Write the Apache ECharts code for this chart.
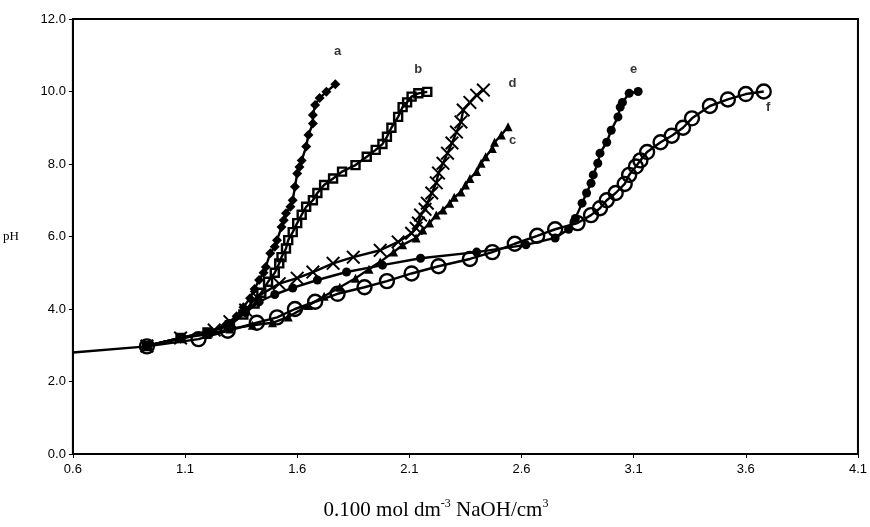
<!DOCTYPE html>
<html>
<head>
<meta charset="utf-8">
<script src="https://cdn.jsdelivr.net/npm/echarts@6/dist/echarts.min.js"></script>
<style>
  html, body { margin: 0; padding: 0; background: #fff; }
  #main { width: 870px; height: 527px; }
</style>
</head>
<body>
<div id="main"></div>
<script>
// 滴定曲线数据 [NaOH 体积, pH]
var curveA = [[0.93,2.98],[1.08,3.18],[1.2,3.35],[1.28,3.55],[1.33,3.8],[1.36,4.05],[1.39,4.3],[1.41,4.55],[1.43,4.8],[1.45,5.0],[1.46,5.16],[1.48,5.54],[1.5,5.72],[1.51,5.9],[1.53,6.26],[1.54,6.45],[1.55,6.64],[1.57,6.82],[1.58,7.0],[1.59,7.37],[1.6,7.74],[1.61,7.92],[1.62,8.1],[1.64,8.48],[1.65,8.8],[1.67,9.12],[1.67,9.35],[1.68,9.63],[1.7,9.82],[1.73,9.99],[1.77,10.2]];
var curveB = [[0.93,2.98],[1.08,3.2],[1.2,3.35],[1.3,3.55],[1.36,3.85],[1.41,4.15],[1.44,4.45],[1.47,4.75],[1.5,5.0],[1.52,5.26],[1.53,5.43],[1.55,5.67],[1.56,5.9],[1.58,6.12],[1.6,6.37],[1.62,6.6],[1.64,6.82],[1.67,7.0],[1.69,7.2],[1.72,7.42],[1.76,7.6],[1.8,7.79],[1.86,7.97],[1.91,8.2],[1.95,8.39],[1.98,8.55],[2.0,8.75],[2.02,9.0],[2.05,9.3],[2.07,9.57],[2.09,9.7],[2.11,9.86],[2.14,9.95],[2.18,9.99]];
var curveC = [[0.93,2.98],[1.08,3.2],[1.2,3.3],[1.3,3.45],[1.4,3.55],[1.49,3.62],[1.56,3.78],[1.65,4.1],[1.72,4.35],[1.79,4.6],[1.86,4.85],[1.92,5.1],[1.97,5.3],[2.03,5.57],[2.07,5.77],[2.13,5.96],[2.16,6.18],[2.19,6.37],[2.22,6.59],[2.25,6.73],[2.28,6.92],[2.3,7.08],[2.33,7.23],[2.35,7.42],[2.37,7.6],[2.4,7.79],[2.42,8.02],[2.44,8.2],[2.47,8.43],[2.48,8.6],[2.51,8.8],[2.54,9.03]];
var curveD = [[0.93,2.98],[1.08,3.2],[1.23,3.42],[1.3,3.65],[1.37,3.97],[1.42,4.33],[1.52,4.7],[1.6,4.85],[1.67,5.02],[1.76,5.26],[1.85,5.43],[1.97,5.62],[2.05,5.85],[2.11,6.09],[2.13,6.23],[2.14,6.37],[2.15,6.59],[2.17,6.75],[2.18,6.92],[2.2,7.2],[2.22,7.48],[2.23,7.75],[2.25,8.02],[2.27,8.3],[2.29,8.58],[2.31,8.88],[2.33,9.16],[2.34,9.49],[2.37,9.7],[2.4,9.9],[2.43,10.04]];
var curveE = [[0.93,2.98],[1.08,3.2],[1.2,3.35],[1.3,3.6],[1.37,3.9],[1.43,4.2],[1.5,4.4],[1.58,4.58],[1.69,4.8],[1.82,5.02],[1.98,5.21],[2.15,5.4],[2.4,5.57],[2.62,5.77],[2.75,5.96],[2.81,6.2],[2.84,6.5],[2.87,6.92],[2.89,7.2],[2.91,7.47],[2.92,7.7],[2.94,8.02],[2.95,8.3],[2.98,8.6],[3.0,8.93],[3.03,9.3],[3.04,9.57],[3.05,9.7],[3.08,9.95],[3.12,10.0]];
var curveF = [[0.6,2.8],[0.93,2.97],[1.16,3.17],[1.29,3.4],[1.42,3.62],[1.51,3.77],[1.59,4.0],[1.68,4.2],[1.78,4.42],[1.9,4.6],[2.0,4.77],[2.11,4.98],[2.23,5.18],[2.37,5.38],[2.47,5.57],[2.57,5.8],[2.67,6.02],[2.75,6.2],[2.85,6.37],[2.91,6.59],[2.95,6.78],[2.98,7.0],[3.02,7.2],[3.06,7.45],[3.08,7.7],[3.11,7.93],[3.13,8.1],[3.16,8.33],[3.22,8.6],[3.27,8.78],[3.32,9.0],[3.36,9.26],[3.44,9.6],[3.52,9.78],[3.6,9.93],[3.68,10.0]];

// 曲线标注
var curveNames = ['a', 'b', 'c', 'd', 'e', 'f'];
var namePos = [[1.78,11.1],[2.14,10.6],[2.56,8.66],[2.56,10.23],[3.1,10.6],[3.7,9.55]];

var xMin = 0.6, xMax = 4.1, xStep = 0.5;
var yMin = 0, yMax = 12, yStep = 2;

var xMark = 'path://M1,0 L5,4 L9,0 L10,1 L6,5 L10,9 L9,10 L5,6 L1,10 L0,9 L4,5 L0,1 Z';

function lineSeries(name, data, symbol, size, filled) {
  return {
    name: name,
    type: 'line',
    data: data.map(function (p) {
      // 第一个点在坐标轴边上，不画符号
      if (p[0] <= xMin) return { value: p, symbol: 'none' };
      return p;
    }),
    symbol: symbol,
    symbolSize: size,
    showAllSymbol: true,
    lineStyle: { color: '#000', width: 2.4 },
    itemStyle: filled
      ? { color: '#000', borderColor: '#000', borderWidth: 0 }
      : { color: 'rgba(0,0,0,0)', borderColor: '#000', borderWidth: 2.4 },
    emphasis: { disabled: true },
    animation: false,
    z: 3
  };
}

var myChart = echarts.init(document.getElementById('main'));

var option = {
  backgroundColor: '#fff',
  animation: false,
  grid: {
    left: 70, right: 8, top: 19, bottom: 73,
    show: true, borderColor: '#000', borderWidth: 2
  },
  xAxis: {
    type: 'value',
    min: xMin, max: xMax, interval: xStep,
    axisLine: { lineStyle: { color: '#000', width: 2 } },
    axisTick: { show: true, length: 4, lineStyle: { color: '#000' } },
    axisLabel: {
      color: '#000', fontFamily: 'Liberation Sans Narrow, Arial', fontSize: 13, margin: 9,
      formatter: function (v) { return v.toFixed(1); }
    },
    splitLine: { show: false }
  },
  yAxis: {
    type: 'value',
    min: yMin, max: yMax, interval: yStep,
    name: 'pH',
    nameLocation: 'middle',
    nameRotate: 0,
    nameGap: 54,
    nameTextStyle: { color: '#000', fontFamily: 'Liberation Serif', fontSize: 13 },
    axisLine: { show: true, lineStyle: { color: '#000', width: 2 } },
    axisTick: { show: true, length: 4, lineStyle: { color: '#000' } },
    axisLabel: {
      color: '#000', fontFamily: 'Liberation Sans, Arial', fontSize: 13, margin: 7,
      formatter: function (v) { return v.toFixed(1); }
    },
    splitLine: { show: false }
  },
  series: [
    lineSeries('a', curveA, 'diamond', 10, true),
    lineSeries('b', curveB, 'rect', 8, false),
    lineSeries('c', curveC, 'triangle', 9, true),
    lineSeries('d', curveD, xMark, 14, true),
    lineSeries('e', curveE, 'circle', 9, true),
    lineSeries('f', curveF, 'circle', 14, false),
    {
      type: 'scatter',
      data: namePos.map(function (p, i) { return { value: p, name: curveNames[i] }; }),
      symbolSize: 0,
      silent: true,
      label: {
        show: true, position: 'inside',
        formatter: '{b}',
        color: '#000', fontFamily: 'Liberation Sans, Arial', fontWeight: 'bold', fontSize: 13
      },
      z: 5
    }
  ],
  graphic: [{
    type: 'text',
    x: 436, y: 510,
    style: {
      text: '0.100 mol dm{sup|-3} NaOH/cm{sup|3}',
      textAlign: 'center', textVerticalAlign: 'middle',
      fill: '#000',
      font: '21px "Liberation Serif"',
      rich: {
        sup: { fontSize: 12, fontFamily: 'Liberation Serif', verticalAlign: 'top', padding: [0, 0, 12, 0] }
      }
    }
  }]
};

myChart.setOption(option);
</script>
</body>
</html>
